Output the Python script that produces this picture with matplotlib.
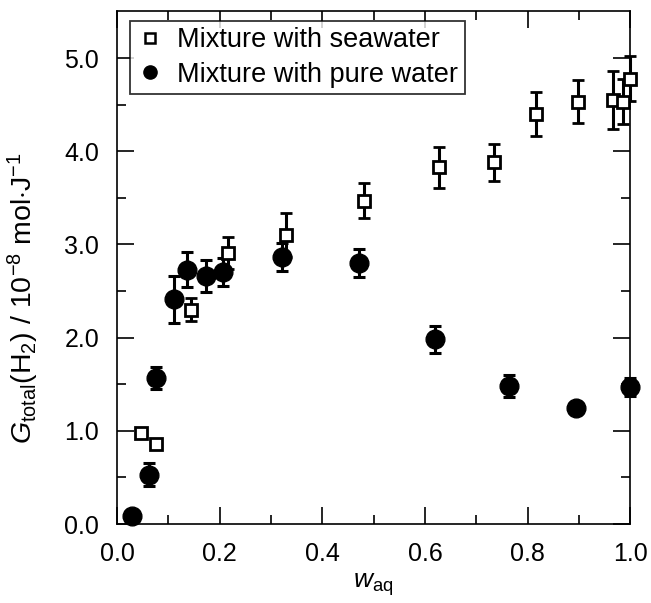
import matplotlib
matplotlib.use('Agg')
import matplotlib.pyplot as plt
from matplotlib.lines import Line2D

# values
sea_w = [0.047, 0.076, 0.144, 0.217, 0.330, 0.481, 0.627, 0.735, 0.817, 0.898, 0.966, 0.987, 1.000]
sea_g = [0.98, 0.86, 2.30, 2.91, 3.10, 3.47, 3.83, 3.88, 4.40, 4.53, 4.55, 4.53, 4.78]
sea_err = [0.04, 0.04, 0.12, 0.17, 0.24, 0.19, 0.22, 0.20, 0.24, 0.23, 0.31, 0.24, 0.24]

pure_w = [0.029, 0.063, 0.076, 0.110, 0.136, 0.173, 0.207, 0.321, 0.471, 0.619, 0.763, 0.894, 1.000]
pure_g = [0.09, 0.53, 1.57, 2.41, 2.73, 2.66, 2.70, 2.87, 2.80, 1.98, 1.48, 1.24, 1.47]
pure_err = [0.04, 0.12, 0.12, 0.25, 0.19, 0.17, 0.15, 0.15, 0.15, 0.14, 0.12, 0.05, 0.10]

plt.rcParams['font.family'] = ['Liberation Sans', 'DejaVu Sans']
plt.rcParams['mathtext.fontset'] = 'custom'
plt.rcParams['mathtext.rm'] = 'Liberation Sans'
plt.rcParams['mathtext.it'] = 'Liberation Sans:italic'

fig = plt.figure(figsize=(6.51, 6.03), dpi=100)
ax = fig.add_axes([0.180, 0.131, 0.788, 0.850])

# pure water circles
pw = ax.errorbar(pure_w, pure_g, yerr=pure_err, fmt='o', color='black', markersize=13.5,
                 elinewidth=2.2, capsize=4.5, capthick=2.2, zorder=3)

# seawater squares
sw = ax.errorbar(sea_w, sea_g, yerr=sea_err, fmt='s', color='black', markerfacecolor='white',
                 markeredgecolor='black', markeredgewidth=2.0, markersize=9,
                 elinewidth=2.2, capsize=4.5, capthick=2.2, zorder=4)

# let the markers at w = 1.0 overhang the frame like the original
for eb in (pw, sw):
    eb[0].set_clip_on(False)
    for art in eb[1]:
        art.set_clip_on(False)
    for art in eb[2]:
        art.set_clip_on(False)

ax.set_xlim(0, 1.0)
ax.set_ylim(0, 5.5)
ax.set_xticks([0.0, 0.2, 0.4, 0.6, 0.8, 1.0])
ax.set_xticks([0.1, 0.3, 0.5, 0.7, 0.9], minor=True)
ax.set_yticks([0.0, 1.0, 2.0, 3.0, 4.0, 5.0])
ax.set_yticks([0.5, 1.5, 2.5, 3.5, 4.5], minor=True)
ax.set_xticklabels(['0.0', '0.2', '0.4', '0.6', '0.8', '1.0'])
ax.set_yticklabels(['0.0', '1.0', '2.0', '3.0', '4.0', '5.0'])

ax.tick_params(which='both', direction='in', top=True, right=True, width=1.2, labelsize=18)
ax.tick_params(which='major', length=12)
ax.tick_params(which='minor', length=6.5)
ax.tick_params(axis='y', which='major', pad=13)
ax.tick_params(axis='x', which='major', pad=13)
for s in ax.spines.values():
    s.set_linewidth(1.2)

ax.set_xlabel(r'$w_{\mathrm{aq}}$', fontsize=19, labelpad=4)
ax.set_ylabel(r'$G_{\mathrm{total}}(\mathrm{H}_2)$ / 10$^{-8}$ mol$\cdot$J$^{-1}$', fontsize=20.5)
ax.yaxis.set_label_coords(-0.148, 0.44)

# legend shows markers only
handles = [
    Line2D([], [], linestyle='none', marker='s', markersize=7.5, markerfacecolor='white',
           markeredgecolor='black', markeredgewidth=1.8),
    Line2D([], [], linestyle='none', marker='o', markersize=9.5, color='black'),
]
labels = ['Mixture with seawater', 'Mixture with pure water']
leg = ax.legend(handles, labels, loc='upper left', bbox_to_anchor=(0.025, 0.982),
                fontsize=19.5, frameon=True, fancybox=False, edgecolor='black',
                handlelength=1.0, handletextpad=0.5, borderpad=0.25, labelspacing=0.3,
                borderaxespad=0.0)
leg.get_frame().set_linewidth(1.3)

fig.savefig('out.png', dpi=100)
